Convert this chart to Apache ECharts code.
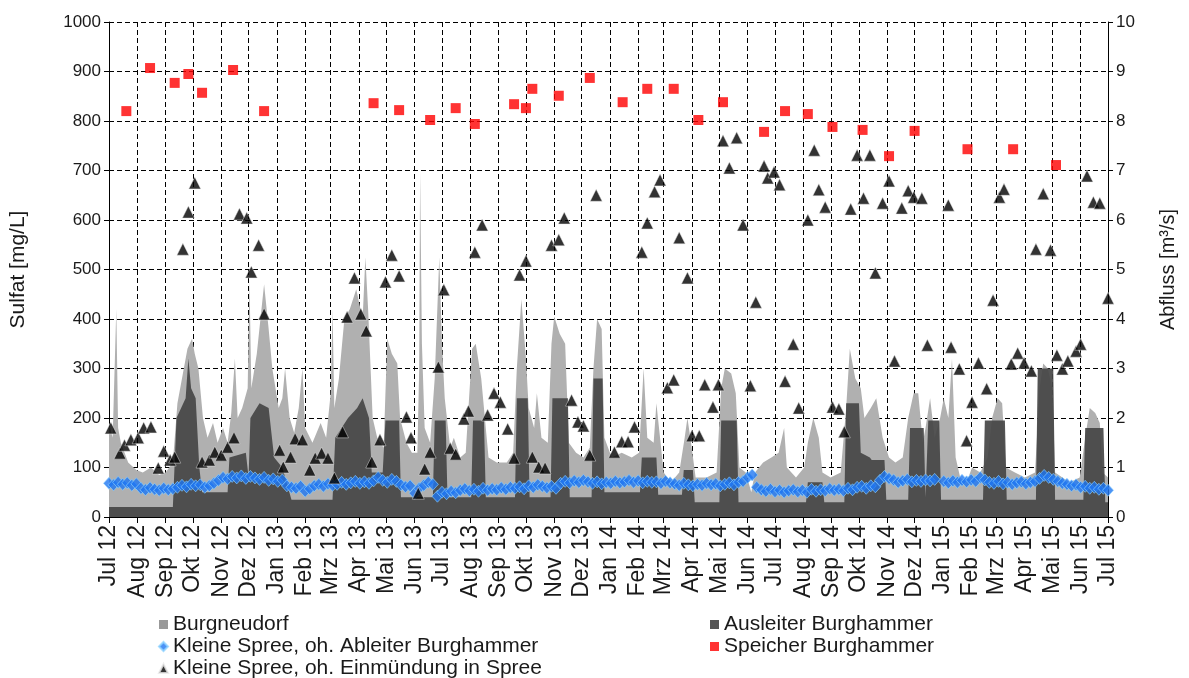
<!DOCTYPE html>
<html>
<head>
<meta charset="utf-8">
<script src="https://cdn.jsdelivr.net/npm/echarts@6/dist/echarts.min.js"></script>
<style>
  html, body { margin: 0; padding: 0; background: #fff; }
  #chart { width: 1189px; height: 678px; }
</style>
</head>
<body>
<div id="chart"></div>
<script>
// Calendar: daily categories from 1 Jul 2012 to 1 Jul 2015, labelled at month starts
const startYear = 2012, startMonth = 6, dayCount = 1096;
const monthNames = ['Jan', 'Feb', 'Mrz', 'Apr', 'Mai', 'Jun', 'Jul', 'Aug', 'Sep', 'Okt', 'Nov', 'Dez'];

// Abfluss Burgneudorf [m³/s] (day since 1 Jul 2012, value)
const burgDays = [0,4,8,10,13,21,30,37,46,55,62,70,75,81,86,91,94,98,103,108,114,119,125,130,134,138,141,146,152,154,156,162,166,170,175,179,186,190,193,198,203,208,212,215,223,232,238,243,245,247,252,258,264,271,278,281,284,289,294,301,305,310,316,319,326,332,338,340,341,343,346,352,357,362,365,368,374,378,385,391,398,402,408,412,416,425,436,443,447,452,457,460,466,469,474,481,485,488,494,500,504,512,520,527,531,535,540,543,551,562,573,581,586,590,597,600,604,608,616,625,631,634,638,643,655,666,671,675,682,687,691,698,704,708,717,726,734,740,743,753,762,766,772,778,782,791,802,808,812,818,824,828,835,841,848,855,862,870,876,882,887,892,895,900,905,911,915,920,924,928,933,940,946,955,963,968,974,979,983,993,1004,1015,1020,1024,1029,1034,1037,1045,1053,1064,1070,1075,1081,1086,1089,1095];
const burgFlow = [1.9,1.6,4.2,1.8,1.5,1.1,0.95,0.9,1.0,0.85,0.9,1.1,2.3,2.9,3.4,3.6,3.3,3.0,2.0,1.6,1.9,1.5,1.8,1.5,2.1,3.2,2.0,2.2,2.6,4.8,2.6,3.3,4.0,4.7,3.8,3.0,2.2,2.4,3.0,2.0,1.7,2.2,3.0,1.8,1.5,1.9,1.6,2.5,4.2,2.2,2.8,4.0,4.2,4.6,4.0,5.25,4.2,2.0,1.6,1.4,3.6,3.3,3.1,2.0,1.5,1.3,1.3,3.0,7.0,3.5,1.8,1.5,2.8,5.25,3.5,2.4,1.4,1.6,1.2,1.3,3.4,3.5,2.8,2.0,1.2,1.1,1.1,1.3,3.0,4.4,3.2,2.2,1.8,2.5,1.6,1.5,3.5,4.05,3.7,3.5,1.5,1.3,1.2,1.4,3.0,4.0,3.8,1.6,1.2,1.3,1.2,1.3,3.0,1.6,1.5,2.3,1.6,0.9,0.7,0.9,1.6,2.0,1.5,0.8,0.8,0.9,2.6,3.0,2.9,2.5,1.0,0.9,0.5,0.9,1.1,1.2,1.3,1.8,1.0,0.8,1.0,1.5,2.0,1.6,0.9,0.8,0.9,2.2,3.4,2.8,2.6,2.0,2.2,2.4,1.6,1.2,1.1,1.2,2.0,2.5,2.5,1.5,1.8,2.4,1.6,2.0,2.4,2.0,3.2,1.2,0.8,0.7,1.0,0.9,1.2,2.0,2.4,2.3,1.0,0.9,0.8,0.9,2.6,3.1,3.0,2.6,0.9,0.8,0.7,0.8,1.6,2.2,2.1,1.9,0.9,0.8];

// Abfluss Ausleiter Burghammer [m³/s]
const ausDays = [0,70,74,84,87,90,95,99,102,130,132,150,153,155,165,175,181,190,200,245,248,262,272,278,285,288,300,303,318,320,355,357,369,371,397,399,411,413,445,447,459,461,484,486,503,505,529,531,541,543,582,584,600,602,628,630,640,642,669,671,688,690,764,766,782,784,806,808,822,824,834,836,850,852,876,878,893,895,898,910,912,958,960,982,984,1016,1018,1035,1037,1068,1070,1090,1092,1095];
const ausFlow = [0.2,0.2,2.0,2.4,3.2,2.6,2.4,1.0,0.5,0.5,1.2,1.3,0.8,2.0,2.3,2.2,1.2,1.0,0.35,0.35,1.6,2.0,2.2,2.4,2.0,0.9,0.9,1.95,1.95,0.4,0.4,1.95,1.95,0.4,0.4,1.95,1.95,0.4,0.4,2.4,2.4,0.4,0.4,2.4,2.4,0.4,0.4,2.8,2.8,0.5,0.5,1.2,1.2,0.45,0.45,0.95,0.95,0.3,0.3,1.95,1.95,0.3,0.3,0.7,0.7,0.3,0.3,2.3,2.3,1.3,1.2,1.15,1.15,0.35,0.35,1.8,1.8,0.4,1.95,1.95,0.35,0.35,1.95,1.95,0.35,0.35,3.0,3.0,0.35,0.35,1.8,1.8,0.3,0.3];

// Sulfat Kleine Spree, oh. Ableiter Burghammer [mg/L], one value every 5 days from 1 Jul 2012
const ableiterStep = 5;
const ableiterSulfat = [
  68,65,70,66,69,64,67,58,55,59,
  56,54,58,55,57,60,64,61,66,63,
  65,60,63,68,74,80,77,82,79,83,
  78,82,79,76,80,74,77,72,75,63,
  60,58,62,52,57,63,66,62,67,64,
  66,70,66,69,72,68,71,68,73,80,
  74,70,76,72,65,61,63,48,58,64,
  70,66,42,50,47,52,49,54,57,53,
  56,52,58,54,57,55,59,56,60,58,
  61,57,63,60,65,62,59,62,58,68,
  72,69,73,70,74,71,68,71,67,70,
  68,72,69,71,74,70,73,69,72,70,
  71,68,72,69,67,64,68,65,63,66,
  64,68,65,67,63,66,69,65,70,72,
  80,85,60,55,52,56,51,54,50,53,
  55,51,54,50,56,52,55,53,57,54,
  56,53,58,55,60,62,58,63,61,74,
  82,78,75,70,73,76,71,74,72,75,
  73,76,null,72,69,73,70,74,71,75,
  72,80,75,70,68,72,67,70,66,69,
  71,67,70,72,78,84,80,76,72,68,
  66,63,65,60,62,58,60,56,58,54
];

// Sulfat Kleine Spree, oh. Einmündung in Spree [mg/L]
const muendungDays = [2,12,17,24,32,38,46,54,60,67,72,81,87,94,102,110,116,123,130,137,143,151,156,164,170,187,191,199,204,212,220,226,233,240,247,256,261,269,276,282,288,297,303,310,318,326,331,339,346,352,361,367,374,380,389,394,401,409,415,422,429,437,444,450,457,464,471,478,485,493,499,507,514,520,527,534,554,562,569,576,584,590,598,604,612,619,625,634,639,647,653,662,668,673,680,688,695,703,709,718,722,729,735,741,750,756,766,773,778,785,793,800,806,813,820,827,834,840,848,855,861,869,876,882,891,897,920,923,932,940,946,953,962,969,976,981,989,996,1003,1011,1016,1024,1032,1039,1045,1051,1060,1065,1072,1079,1086,1095];
const muendungSulfat = [180,129,145,156,160,180,182,99,133,115,121,541,616,675,111,115,131,125,141,160,612,604,495,549,410,135,101,121,158,156,95,119,129,119,79,172,404,483,410,376,111,156,475,529,487,202,160,48,97,131,303,459,139,127,198,214,535,590,206,250,232,178,119,489,517,121,101,99,549,560,604,236,192,184,125,650,131,152,152,182,535,594,657,681,261,277,564,483,164,164,267,222,267,760,705,766,590,265,434,709,685,697,671,274,349,220,600,741,661,626,222,218,172,622,731,644,731,493,634,679,315,624,659,646,644,347,630,343,299,154,232,311,259,438,646,662,309,331,311,295,541,653,539,327,299,315,335,349,689,636,634,442];

// Sulfat Speicher Burghammer [mg/L]
const speicherDays = [19,45,72,87,102,136,170,290,318,352,380,401,444,457,464,493,527,563,590,619,646,673,718,741,766,793,826,855,883,941,991,1038];
const speicherSulfat = [820,907,877,895,857,903,820,836,822,802,826,794,834,826,865,851,887,838,865,865,802,838,778,820,814,788,782,729,780,743,743,711];

// Build daily categories and the month-start label lookup
const categories = [];
const monthLabel = {};
for (let d = 0; d < dayCount; d++) {
  const dt = new Date(Date.UTC(startYear, startMonth, 1 + d));
  categories.push(dt.toISOString().slice(0, 10));
  if (dt.getUTCDate() === 1) {
    monthLabel[d] = monthNames[dt.getUTCMonth()] + ' ' + String(dt.getUTCFullYear()).slice(2);
  }
}
const isMonthStart = (idx) => monthLabel[idx] !== undefined;

const pairs = (xs, ys) => xs.map((x, i) => [x, ys[i]]);
const ableiterData = ableiterSulfat.map((v, i) => [i * ableiterStep, v]);

const FONT = 'Liberation Sans, Arial, sans-serif';
const TXT = '#1a1a1a';
const dash = { color: '#000', width: 1, type: [5, 3] };
const plain = (v) => String(v);

const chart = echarts.init(document.getElementById('chart'), null, { renderer: 'canvas' });
chart.setOption({
  animation: false,
  backgroundColor: '#fff',
  textStyle: { fontFamily: FONT },
  grid: { left: 106, right: 81, top: 22, bottom: 161 },
  xAxis: {
    type: 'category',
    data: categories,
    boundaryGap: false,
    axisLine: { show: true, lineStyle: { color: '#000', width: 1 } },
    axisTick: { show: true, interval: isMonthStart, length: 6, lineStyle: { color: '#000' } },
    axisLabel: {
      interval: isMonthStart,
      rotate: 90,
      margin: 8,
      fontSize: 23,
      color: TXT,
      fontFamily: FONT,
      formatter: (value, index) => monthLabel[index] || ''
    },
    splitLine: { show: true, interval: isMonthStart, lineStyle: dash }
  },
  yAxis: [
    {
      type: 'value', min: 0, max: 1000, interval: 100,
      name: 'Sulfat [mg/L]', nameLocation: 'middle', nameGap: 80, nameRotate: 90,
      nameTextStyle: { fontSize: 21, color: TXT, fontFamily: FONT },
      axisLine: { show: true, lineStyle: { color: '#000' } },
      axisTick: { show: true, length: 5, lineStyle: { color: '#000' } },
      axisLabel: { fontSize: 17, color: TXT, margin: 8, fontFamily: FONT, formatter: plain },
      splitLine: { show: true, lineStyle: dash }
    },
    {
      type: 'value', min: 0, max: 10, interval: 1,
      name: 'Abfluss [m³/s]', nameLocation: 'middle', nameGap: 50, nameRotate: 90,
      nameTextStyle: { fontSize: 20, color: TXT, fontFamily: FONT },
      axisLine: { show: true, lineStyle: { color: '#000' } },
      axisTick: { show: true, length: 5, lineStyle: { color: '#000' } },
      axisLabel: { fontSize: 17, color: TXT, margin: 8, fontFamily: FONT, formatter: plain },
      splitLine: { show: false }
    }
  ],
  legend: [
    {
      left: 158, top: 614, height: 100, orient: 'vertical', itemGap: 1,
      itemWidth: 9, itemHeight: 9, padding: 0,
      textStyle: { fontSize: 21, color: TXT, fontFamily: FONT, lineHeight: 21 },
      data: [
        { name: 'Burgneudorf', icon: 'rect' },
        { name: 'Kleine Spree, oh. Ableiter Burghammer', icon: 'diamond' },
        { name: 'Kleine Spree, oh. Einmündung in Spree', icon: 'triangle' }
      ]
    },
    {
      left: 710, top: 614, height: 100, orient: 'vertical', itemGap: 1,
      itemWidth: 9, itemHeight: 9, padding: 0,
      textStyle: { fontSize: 21, color: TXT, fontFamily: FONT, lineHeight: 21 },
      data: [
        { name: 'Ausleiter Burghammer', icon: 'rect' },
        { name: 'Speicher Burghammer', icon: 'rect' }
      ]
    }
  ],
  series: [
    {
      name: 'Burgneudorf', type: 'line', yAxisIndex: 1, z: 1,
      data: pairs(burgDays, burgFlow),
      symbol: 'none', color: '#999999',
      lineStyle: { width: 0 },
      areaStyle: { color: '#b0b0b0', opacity: 1 }
    },
    {
      name: 'Ausleiter Burghammer', type: 'line', yAxisIndex: 1, z: 2,
      data: pairs(ausDays, ausFlow),
      symbol: 'none', color: '#555555',
      lineStyle: { width: 0 },
      areaStyle: { color: '#454545', opacity: 0.92 }
    },
    {
      name: 'Kleine Spree, oh. Ableiter Burghammer', type: 'scatter', z: 3,
      data: ableiterData,
      symbol: 'diamond', symbolSize: [11, 12],
      itemStyle: { color: '#1f77f2', borderColor: '#8fd3ff', borderWidth: 0.8 }
    },
    {
      name: 'Kleine Spree, oh. Einmündung in Spree', type: 'scatter', z: 4,
      data: pairs(muendungDays, muendungSulfat),
      symbol: 'triangle', symbolSize: 12,
      itemStyle: { color: '#000', borderColor: '#e8e8e8', borderWidth: 0.6 }
    },
    {
      name: 'Speicher Burghammer', type: 'scatter', z: 5,
      data: pairs(speicherDays, speicherSulfat),
      symbol: 'rect', symbolSize: 10,
      itemStyle: { color: '#ff0000' }
    }
  ]
});
</script>
</body>
</html>
